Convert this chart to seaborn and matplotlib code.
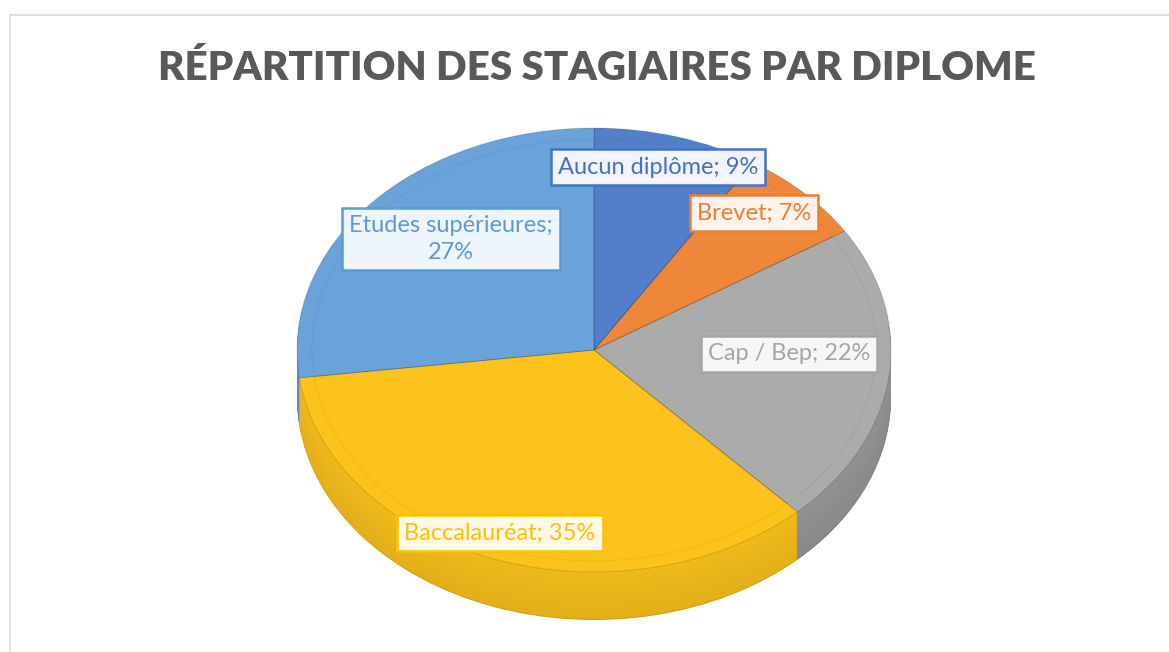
import matplotlib
matplotlib.use("Agg")
import matplotlib.pyplot as plt
import seaborn as sns
import numpy as np
from matplotlib.patches import Rectangle
import matplotlib.colors as mcolors

sns.set_theme(style="white")
plt.rcParams['font.family'] = ['Lato', 'DejaVu Sans']

# ---- data ----
categories = ["Aucun diplôme", "Brevet", "Cap / Bep", "Baccalauréat", "Etudes supérieures"]
values = [9, 7, 22, 35, 27]
label_texts = ["Aucun diplôme; 9%", "Brevet; 7%", "Cap / Bep; 22%", "Baccalauréat; 35%", "Etudes supérieures;\n27%"]
top_colors = ["#527FCA", "#EE873A", "#ABABAB", "#FCC31C", "#69A3DA"]
text_colors = ["#4472C4", "#ED7D31", "#A5A5A5", "#FFC000", "#5B9BD5"]
box_faces = ["#F1F4FA", "#FDF3EB", "#F6F6F6", "#FEF8E8", "#EEF4FB"]
label_pos = [(658, 167), (754, 213), (789, 354), (500, 533), (451, 239)]

W, H = 1169, 652
fig = plt.figure(figsize=(W / 100, H / 100), dpi=100)
fig.patch.set_facecolor("white")

# chart border
fig.patches.append(Rectangle((10 / W, -0.1), 1.2, 1 - 15 / H + 0.1, transform=fig.transFigure,
                             fill=False, edgecolor="#D9D9D9", linewidth=1.2))

# pie geometry (pixels)
cx, cy, rx, ry, depth = 594, 350, 297, 222, 48
ax = fig.add_axes([0, 0, 1, 1])

def shade(c, f):
    r, g, b = mcolors.to_rgb(c)
    return (min(r * f, 1), min(g * f, 1), min(b * f, 1))

side_base = [0.85, 0.85, 0.80, 0.90, 0.85]

# side (depth) layers
n_layers = 40
ax.pie(values, colors=[shade(c, f - 0.08) for c, f in zip(top_colors, side_base)], startangle=90,
       counterclock=False, radius=1, center=(0, -depth / ry), wedgeprops=dict(linewidth=0), frame=True)
for k in range(n_layers - 1, 0, -1):
    off = -depth / ry * k / n_layers
    ax.pie(values, colors=[shade(c, f + 0.05 * (1 - k / n_layers)) for c, f in zip(top_colors, side_base)],
           startangle=90, counterclock=False, radius=1, center=(0, off),
           wedgeprops=dict(linewidth=0), frame=True)

# top face
wedges, _ = ax.pie(values, colors=top_colors, startangle=90, counterclock=False, radius=1,
                   center=(0, 0), wedgeprops=dict(linewidth=0.8, edgecolor=(0, 0, 0, 0.12)), frame=True)
# subtle bevel rim
ax.pie(values, colors=["none"] * 5, startangle=90, counterclock=False, radius=0.95,
       center=(0, 0), wedgeprops=dict(linewidth=0.6, edgecolor=(0, 0, 0, 0.06), fill=False), frame=True)

ax.set_aspect("auto")
ax.set_xlim(-cx / rx, (W - cx) / rx)
ax.set_ylim(-(H - cy) / ry, cy / ry)
ax.axis("off")

# labels
for txt, (px, py), tc, fc in zip(label_texts, label_pos, text_colors, box_faces):
    fig.text(px / W, 1 - py / H, txt, ha="center", va="center", fontsize=17, color=tc,
             multialignment="center", linespacing=1.4,
             bbox=dict(boxstyle="square,pad=0.3", facecolor=fc, edgecolor=tc, linewidth=1.8))

fig.text(597 / W, 1 - 68 / H, "RÉPARTITION DES STAGIAIRES PAR DIPLOME", ha="center", va="center",
         fontsize=29, fontweight="heavy", color="#595959")

fig.savefig("out.png", dpi=100, facecolor="white")
